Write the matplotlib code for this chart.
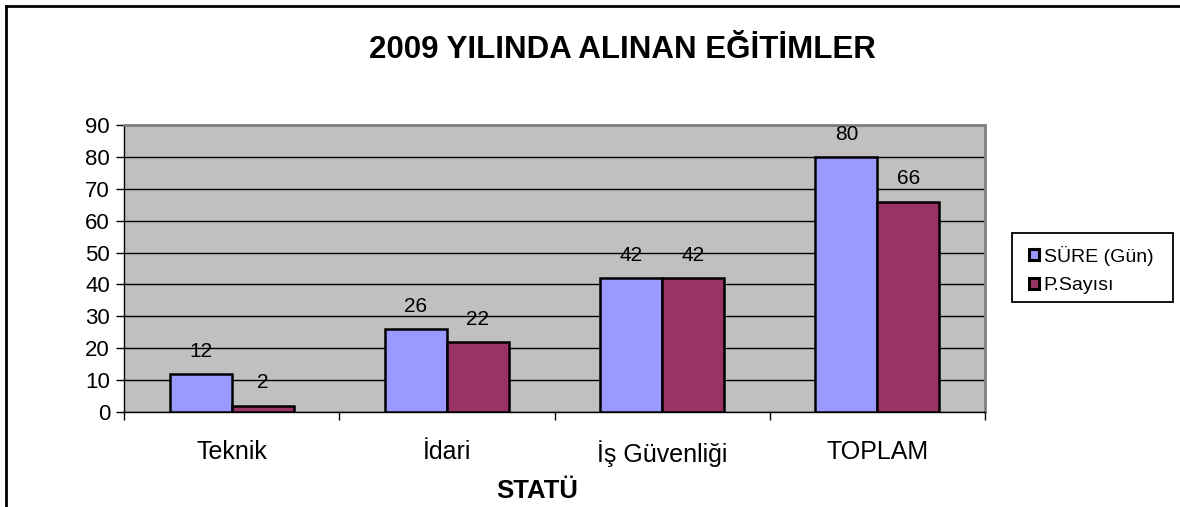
import matplotlib.pyplot as plt
import numpy as np
from matplotlib.lines import Line2D
from matplotlib.patches import Rectangle

categories = ['Teknik', 'İdari', 'İş Güvenliği', 'TOPLAM']
sure_gun = [12, 26, 42, 80]
p_sayisi = [2, 22, 42, 66]
series_names = ['SÜRE (Gün)', 'P.Sayısı']

plt.rcParams['font.family'] = ['Liberation Sans', 'DejaVu Sans']

W, H = 1180, 507
fig = plt.figure(figsize=(W / 100, H / 100), dpi=100)

# outer chart frame (only top and left visible)
fig.add_artist(Line2D([6 / W, 1.0], [1 - 5.5 / H, 1 - 5.5 / H], color='black', lw=2, transform=fig.transFigure))
fig.add_artist(Line2D([6 / W, 6 / W], [0.0, 1 - 5.5 / H], color='black', lw=2, transform=fig.transFigure))

x0, x1, y0, y1 = 124, 985, 125, 412
ax = fig.add_axes([x0 / W, 1 - y1 / H, (x1 - x0) / W, (y1 - y0) / H])
ax.set_facecolor('#C0C0C0')

x = np.arange(len(categories))
bw = 0.288
b1 = ax.bar(x - bw / 2, sure_gun, bw, color='#9999FF', edgecolor='black', linewidth=1.8, zorder=3)
b2 = ax.bar(x + bw / 2, p_sayisi, bw, color='#993366', edgecolor='black', linewidth=1.8, zorder=3)

for bars in (b1, b2):
    for r in bars:
        ax.annotate(str(int(r.get_height())), (r.get_x() + r.get_width() / 2, r.get_height()),
                    xytext=(0, 9.5), textcoords='offset points', ha='center', va='bottom',
                    fontsize=15)

ax.set_ylim(0, 90)
ax.set_xlim(-0.5, 3.5)
ax.set_yticks(range(0, 91, 10))
ax.yaxis.grid(True, color='black', linewidth=1)
ax.set_axisbelow(True)
ax.tick_params(axis='y', labelsize=16, direction='out', length=6, width=1, pad=4)
ax.set_xticks(np.arange(-0.5, 4, 1))
ax.set_xticklabels([])
ax.set_xticks(x, minor=True)
ax.set_xticklabels(categories, minor=True, fontsize=18)
ax.tick_params(axis='x', which='major', direction='out', length=6, width=1)
ax.tick_params(axis='x', which='minor', length=0, pad=20.5)

ax.spines['top'].set_color('#808080')
ax.spines['right'].set_color('#808080')
ax.spines['top'].set_linewidth(2)
ax.spines['right'].set_linewidth(2)
ax.spines['left'].set_linewidth(1)
ax.spines['bottom'].set_linewidth(1)

fig.text(622 / W, 1 - 50 / H, '2009 YILINDA ALINAN EĞİTİMLER', ha='center', va='center',
         fontsize=22.5, fontweight='bold')
fig.text(537 / W, 1 - 491 / H, 'STATÜ', ha='center', va='center', fontsize=18.5, fontweight='bold')

# legend frame drawn separately to get Excel-like padding
fig.add_artist(Rectangle((1012 / W, 1 - 302 / H), 161 / W, 69 / H, transform=fig.transFigure,
                         facecolor='white', edgecolor='black', linewidth=1.3, zorder=4))
h1 = Rectangle((0, 0), 1, 1, facecolor='#9999FF', edgecolor='black', linewidth=2.2)
h2 = Rectangle((0, 0), 1, 1, facecolor='#993366', edgecolor='black', linewidth=2.2)
leg = fig.legend([h1, h2], series_names, loc='center left', bbox_to_anchor=(1029 / W, 1 - 270 / H),
                 bbox_transform=fig.transFigure, fontsize=14, frameon=False,
                 handlelength=0.5, handleheight=0.5, handletextpad=0.25,
                 borderpad=0, labelspacing=0.6, borderaxespad=0)
leg.set_zorder(5)

fig.savefig('out.png', dpi=100)
